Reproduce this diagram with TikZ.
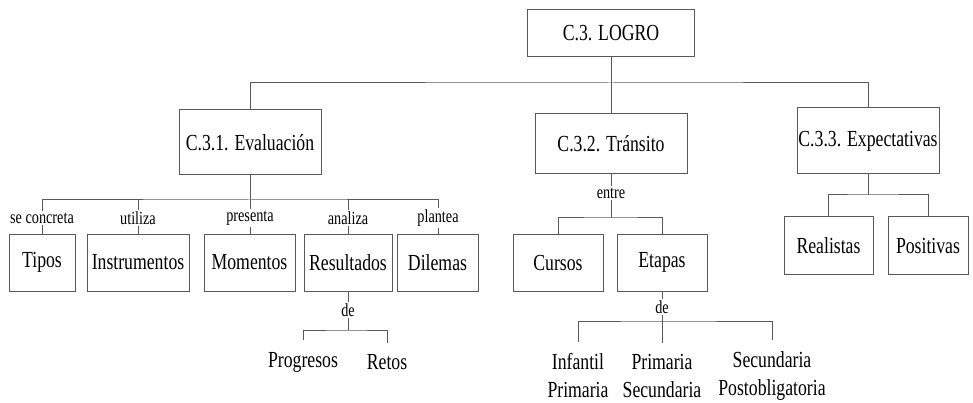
\documentclass[tikz,border=0pt]{standalone}
\usepackage{fontspec}
\setmainfont[FakeStretch=0.77]{Liberation Serif}
\usetikzlibrary{positioning}

\begin{document}
\begin{tikzpicture}[x=1pt,y=-1pt,line width=1pt,draw=black!65,
    caja/.style={draw=black!65, minimum width=#1, minimum height=57pt, inner sep=0pt, font=\fontsize{23}{28}\selectfont},
    etiq/.style={inner sep=1pt, font=\fontsize{18.5}{22}\selectfont},
    hoja/.style={align=center, inner sep=2pt, font=\fontsize{23}{28}\selectfont}]
    \useasboundingbox (0,0) rectangle (973,403);
    \node[caja=167pt, minimum height=47pt] (logro) at (611,33) {C.3. LOGRO};
    \node[caja=142pt, minimum height=65pt] (eval) at (250,142.5) {C.3.1. Evaluación};
    \node[caja=152pt, minimum height=60pt] (trans) at (611,144) {C.3.2. Tránsito};
    \node[caja=142pt, minimum height=66pt] (expec) at (868,141) {C.3.3. Expectativas};
    \coordinate (j0) at (611,83);
    \draw (logro) -- (j0);
    \draw (eval.north) |- (j0) -| (expec.north);
    \draw (j0) -- (trans);
    % Evaluacion
    \node[etiq] (lconcreta) at (42,218) {se concreta};
    \node[etiq] (lutiliza) at (138,218) {utiliza};
    \node[etiq] (lpresenta) at (250,218) {presenta};
    \node[etiq] (lanaliza) at (348,218) {analiza};
    \node[etiq] (lplantea) at (438,218) {plantea};
    \node[caja=66pt] (tipos) at (42,262.5) {Tipos};
    \node[caja=102pt] (instr) at (138,262.5) {Instrumentos};
    \node[caja=91pt] (momen) at (249.5,262.5) {Momentos};
    \node[caja=88pt] (result) at (348,262.5) {Resultados};
    \node[caja=81pt] (dilem) at (437.5,262.5) {Dilemas};
    \coordinate (j1) at (250,200);
    \draw (eval) -- (j1);
    \draw (lconcreta.north) |- (j1) -| (lplantea.north);
    \foreach \n in {lutiliza,lpresenta,lanaliza}
        \draw (\n.north) -- (\n.north |- j1);
    \foreach \a/\b in {lconcreta/tipos,lutiliza/instr,lpresenta/momen,lanaliza/result,lplantea/dilem}
        \draw (\a.south) -- (\a.south |- \b.north);
    \node[etiq] (lde1) at (348,310) {de};
    \draw (result) -- (lde1);
    \coordinate (j2) at (348,330);
    \draw (lde1) -- (j2);
    \node[hoja] (progresos) at (303,362) {Progresos};
    \node[hoja] (retos) at (387,362) {Retos};
    \draw[shorten <=9pt, shorten >=9pt] (progresos.north) |- (j2) -| (retos.north);
    % Transito
    \node[etiq] (lentre) at (611,193) {entre};
    \draw (trans) -- (lentre);
    \coordinate (j3) at (611,218);
    \draw (lentre) -- (j3);
    \node[caja=90pt] (cursos) at (558,262.5) {Cursos};
    \node[caja=90pt] (etapas) at (662,262.5) {Etapas};
    \draw (cursos.north) |- (j3) -| (etapas.north);
    \node[etiq] (lde2) at (662,307) {de};
    \draw (etapas) -- (lde2);
    \coordinate (j4) at (662,321);
    \draw (lde2) -- (j4);
    \node[hoja] (infantil) at (578,376) {Infantil\\Primaria};
    \node[hoja] (primaria) at (662,376) {Primaria\\Secundaria};
    \node[hoja] (secund) at (772,376) {Secundaria\\Postobligatoria};
    \draw[shorten <=9pt, shorten >=9pt] (infantil.north) |- (j4) -| (secund.north);
    \draw[shorten >=9pt] (j4) -- (primaria.north);
    % Expectativas
    \node[caja=89pt] (real) at (828.5,245.5) {Realistas};
    \node[caja=80pt] (posit) at (928,245.5) {Positivas};
    \coordinate (j5) at (868,195);
    \draw (expec) -- (j5);
    \draw (real.north) |- (j5) -| (posit.north);
\end{tikzpicture}
\end{document}
